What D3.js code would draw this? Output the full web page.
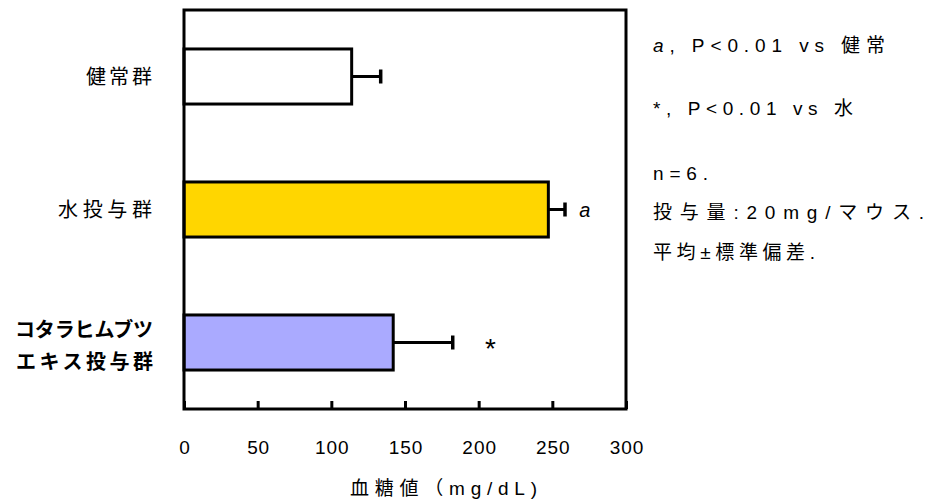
<!DOCTYPE html>
<html><head><meta charset="utf-8">
<script src="https://cdn.jsdelivr.net/npm/d3@7"></script>
<style>
body{margin:0;background:#fff;}
text{font-family:"Liberation Sans","Noto Sans CJK JP",sans-serif;fill:#000;}
</style></head>
<body>
<svg id="c" width="930" height="499"></svg>
<script>
const categories = ["健常群", "水投与群", "コタラヒムブツ\nエキス投与群"];
const means = [113.8, 247.3, 142];
const sds = [19.7, 11.3, 40.4];
const marks = ["", "a", "*"];
const fills = ["#FFFFFF", "#FFD600", "#AAAAFF"];
const tickValues = [0, 50, 100, 150, 200, 250, 300];
const xTitle = "血糖値（mg/dL)";
const notes = [
  {text: "a, P<0.01 vs 健常", italicFirst: true},
  {text: "*, P<0.01 vs 水"},
  {text: "n=6."},
  {text: "投与量:20mg/マウス."},
  {text: "平均±標準偏差."}
];

const svg = d3.select("#c");
const L = 184, R = 626, T = 10, B = 409;
const x = d3.scaleLinear().domain([0, 300]).range([L, R]);
const y = d3.scaleBand().domain(categories).range([T, B]).paddingInner(0.586).paddingOuter(0.293);

// bars
svg.selectAll("rect.bar").data(categories).enter().append("rect")
  .attr("x", x(0)).attr("y", d => y(d))
  .attr("width", (d,i) => x(means[i]) - x(0)).attr("height", y.bandwidth())
  .attr("fill", (d,i) => fills[i]).attr("stroke", "#000").attr("stroke-width", 3);

// error bars
categories.forEach((c,i) => {
  const cy = y(c) + y.bandwidth()/2;
  svg.append("line").attr("x1", x(means[i])).attr("x2", x(means[i]+sds[i]))
    .attr("y1", cy).attr("y2", cy).attr("stroke", "#000").attr("stroke-width", 3);
  svg.append("line").attr("x1", x(means[i]+sds[i])).attr("x2", x(means[i]+sds[i]))
    .attr("y1", cy-7).attr("y2", cy+7).attr("stroke", "#000").attr("stroke-width", 3.5);
});

// significance marks
svg.append("text").attr("x", x(272)).attr("y", y(categories[1]) + y.bandwidth()/2 + 7)
  .attr("text-anchor", "middle").attr("font-size", 20).attr("font-style", "italic").text(marks[1]);
svg.append("text").attr("x", x(208)).attr("y", y(categories[2]) + y.bandwidth()/2 + 15)
  .attr("text-anchor", "middle").attr("font-size", 28).text(marks[2]);

// frame
svg.append("rect").attr("x", L).attr("y", T).attr("width", R-L).attr("height", B-T)
  .attr("fill", "none").attr("stroke", "#000").attr("stroke-width", 3);

// axis
const ax = svg.append("g").attr("transform", `translate(0,${B})`)
  .call(d3.axisBottom(x).tickValues(tickValues).tickSize(-8).tickPadding(32).tickFormat(d3.format("d")));
ax.select(".domain").remove();
ax.selectAll(".tick line").attr("stroke", "#000").attr("stroke-width", 3);
ax.selectAll(".tick text").attr("font-size", 19).attr("font-family", null)
  .attr("textLength", d => String(d).length * 11.7 - 1.5).attr("lengthAdjust", "spacing")
  .attr("fill", "#000");

svg.append("text").attr("x", 350).attr("y", 495)
  .attr("font-size", 19).attr("textLength", 187).attr("lengthAdjust", "spacing").text(xTitle);

// category labels
const labelWidths = [[66], [94], [138, 137]];
categories.forEach((c,i) => {
  const cy = y(c) + y.bandwidth()/2;
  const lines = c.split("\n");
  if (lines.length === 1) {
    svg.append("text").attr("x", 152 - labelWidths[i][0]).attr("y", cy + 7).attr("font-size", 20)
      .attr("textLength", labelWidths[i][0]).attr("lengthAdjust", "spacing").text(c);
  } else {
    lines.forEach((ln, k) => svg.append("text").attr("font-size", 20).attr("font-weight", "bold")
      .attr("x", 153 - labelWidths[i][k]).attr("y", cy - 12.5 + k*32 + 7)
      .attr("textLength", labelWidths[i][k]).attr("lengthAdjust", "spacing").text(ln));
  }
});

// notes
const ny = [45, 108, 173, 212, 252];
const nw = [232, 200, 55, 271, 162];
notes.forEach((n,i) => {
  const t = svg.append("text").attr("x", 653).attr("y", ny[i] + 7).attr("font-size", 19)
    .attr("textLength", nw[i]).attr("lengthAdjust", "spacing");
  if (n.italicFirst) {
    t.append("tspan").attr("font-style", "italic").text(n.text[0]);
    t.append("tspan").text(n.text.slice(1));
  } else t.text(n.text);
});
</script>
</body></html>
